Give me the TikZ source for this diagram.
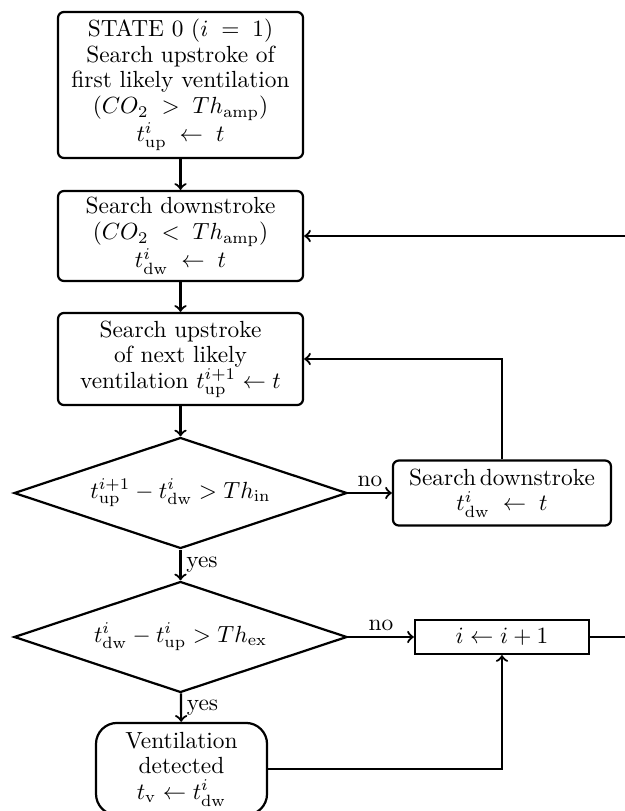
\documentclass[tikz,border=0pt]{standalone}
\usetikzlibrary{shapes.geometric}
\begin{document}
\begin{tikzpicture}[line width=0.95pt,
    font=\fontsize{10}{11}\selectfont,
    stepbox/.style={draw, rounded corners=2.5pt, align=center, inner sep=0pt},
    testbox/.style={draw, diamond, aspect=3, inner sep=0pt, minimum width=5.012cm, minimum height=1.671cm},
    endbox/.style={draw, rounded corners=9pt, align=center, inner sep=0pt}]
          \useasboundingbox (0,0) rectangle (9.406,-12.206);
          \clip (0,0) rectangle (9.406,-12.206);
          % main column
          \node[stepbox, minimum width=3.687cm, minimum height=2.197cm] (state0) at (2.717,-1.279)
            {STATE 0 ($i\;=\;1$)\\Search upstroke of\\first likely ventilation\\($CO_2\;>\;Th_{\mathrm{amp}}$)\\$t^i_{\mathrm{up}}\;\leftarrow\;t$};
          \node[stepbox, minimum width=3.687cm, minimum height=1.354cm] (down) at (2.717,-3.552)
            {Search downstroke\\($CO_2\;<\;Th_{\mathrm{amp}}$)\\$t^i_{\mathrm{dw}}\;\leftarrow\;t$};
          \node[stepbox, minimum width=3.687cm, minimum height=1.385cm] (up) at (2.717,-5.403)
            {Search upstroke\\of next likely\\ventilation $t^{i+1}_{\mathrm{up}}\leftarrow t$};
          \node[testbox] (inhale) at (2.717,-7.420)
            {$t^{i+1}_{\mathrm{up}}-t^i_{\mathrm{dw}}>Th_{\mathrm{in}}$};
          \node[testbox] (exhale) at (2.717,-9.587)
            {$t^i_{\mathrm{dw}}-t^i_{\mathrm{up}}>Th_{\mathrm{ex}}$};
          \node[endbox, minimum width=2.574cm, minimum height=1.385cm] (vent) at (2.732,-11.573)
            {Ventilation\\detected\\$t_{\mathrm{v}}\leftarrow t^i_{\mathrm{dw}}$};
          % side column
          \node[stepbox, minimum width=3.281cm, minimum height=0.978cm] (down2) at (7.555,-7.420)
            {Search\,downstroke\\$t^i_{\mathrm{dw}}\;\leftarrow\;t$};
          \node[draw, inner sep=0pt, minimum width=2.619cm, minimum height=0.512cm] (next) at (7.555,-9.587)
            {$i\leftarrow i+1$};
          \coordinate (loop) at (9.632,-9.587);
          % forward arrows
          \draw[->] (state0) -- (down);
          \draw[->] (down) -- (up);
          \draw[->] (up) -- (inhale);
          \draw[->] (inhale) -- node[right, inner sep=2pt]{yes} (exhale);
          \draw[->] (exhale) -- node[right, inner sep=2pt]{yes} (vent);
          \draw[->] (inhale) -- node[above, inner sep=2pt]{no} (down2);
          \draw[->] (exhale) -- node[above, inner sep=2pt]{no} (next);
          % back arrows
          \draw[->] (down2) |- (up);
          \draw[->] (vent) -| (next);
          \draw[->] (next) -- (loop) |- (down);
        \end{tikzpicture}
\end{document}
